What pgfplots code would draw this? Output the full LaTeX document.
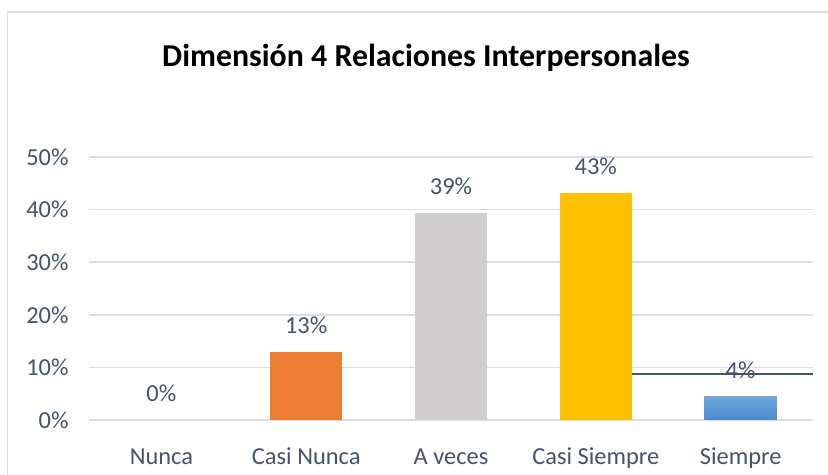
\documentclass[border=0pt]{standalone}
\usepackage{pgfplots}
\pgfplotsset{compat=1.18}
\usepackage{fontspec}
\setmainfont{Carlito}
\definecolor{txt}{HTML}{44546A}
\definecolor{gridc}{HTML}{D9DEE6}
\definecolor{borderc}{HTML}{D9DEE6}
\definecolor{orangeC}{HTML}{ED7D31}
\definecolor{grayC}{HTML}{D0CECE}
\definecolor{goldC}{HTML}{FFC000}
\definecolor{blueTop}{HTML}{6EA6DD}
\definecolor{blueBot}{HTML}{4A8ACD}
\begin{document}
\begin{tikzpicture}[x=1bp,y=1bp]
\useasboundingbox (0,0) rectangle (828,475);
\draw[color=borderc, line width=1.5bp] (7.5,0) -- (7.5,463) -- (830,463);
\node[font=\bfseries\fontsize{32}{38}\selectfont, text=black] at (426,417) {Dimensión 4 Relaciones Interpersonales};
\begin{axis}[
  at={(89bp,55bp)}, anchor=south west,
  scale only axis, width=724bp, height=263bp,
  xmin=-0.5, xmax=4.5, ymin=0, ymax=50,
  axis line style={draw=none},
  major tick length=0pt,
  /pgf/number format/assume math mode=true,
  ymajorgrids, grid style={gridc, line width=1.5bp},
  xtick={0,1,2,3,4},
  xticklabels={Nunca,Casi Nunca,A veces,Casi Siempre,Siempre},
  ytick={0,10,20,30,40,50},
  yticklabels={0\%,10\%,20\%,30\%,40\%,50\%},
  ticklabel style={font=\fontsize{24.5}{29}\selectfont, text=txt},
  yticklabel style={anchor=east, xshift=-17bp},
  xticklabel style={anchor=north, yshift=-34bp, text height=0.7em, text depth=0.25em},
  every node near coord/.style={font=\fontsize{24.5}{29}\selectfont, text=txt, yshift=15bp},
  nodes near coords={\pgfmathprintnumber[fixed,precision=0,assume math mode=true]{\pgfplotspointmeta}\%},
  point meta=explicit,
  clip=false,
]
\addplot[ybar, bar width=0.5, bar shift=0pt, draw=none, fill=none] coordinates {(0,0) [0]};
\addplot[ybar, bar width=0.5, bar shift=0pt, draw=none, fill=orangeC] coordinates {(1,12.9) [13]};
\addplot[ybar, bar width=0.5, bar shift=0pt, draw=none, fill=grayC] coordinates {(2,39.4) [39]};
\addplot[ybar, bar width=0.5, bar shift=0pt, draw=none, fill=goldC] coordinates {(3,43.2) [43]};
\addplot[ybar, bar width=0.5, bar shift=0pt, draw=none, top color=blueTop, bottom color=blueBot] coordinates {(4,4.4) [4]};
\addplot[txt, line width=1.5bp, no marks, nodes near coords={}, forget plot] coordinates {(3.25,8.7) [0] (4.5,8.7) [0]};
\end{axis}
\end{tikzpicture}
\end{document}
